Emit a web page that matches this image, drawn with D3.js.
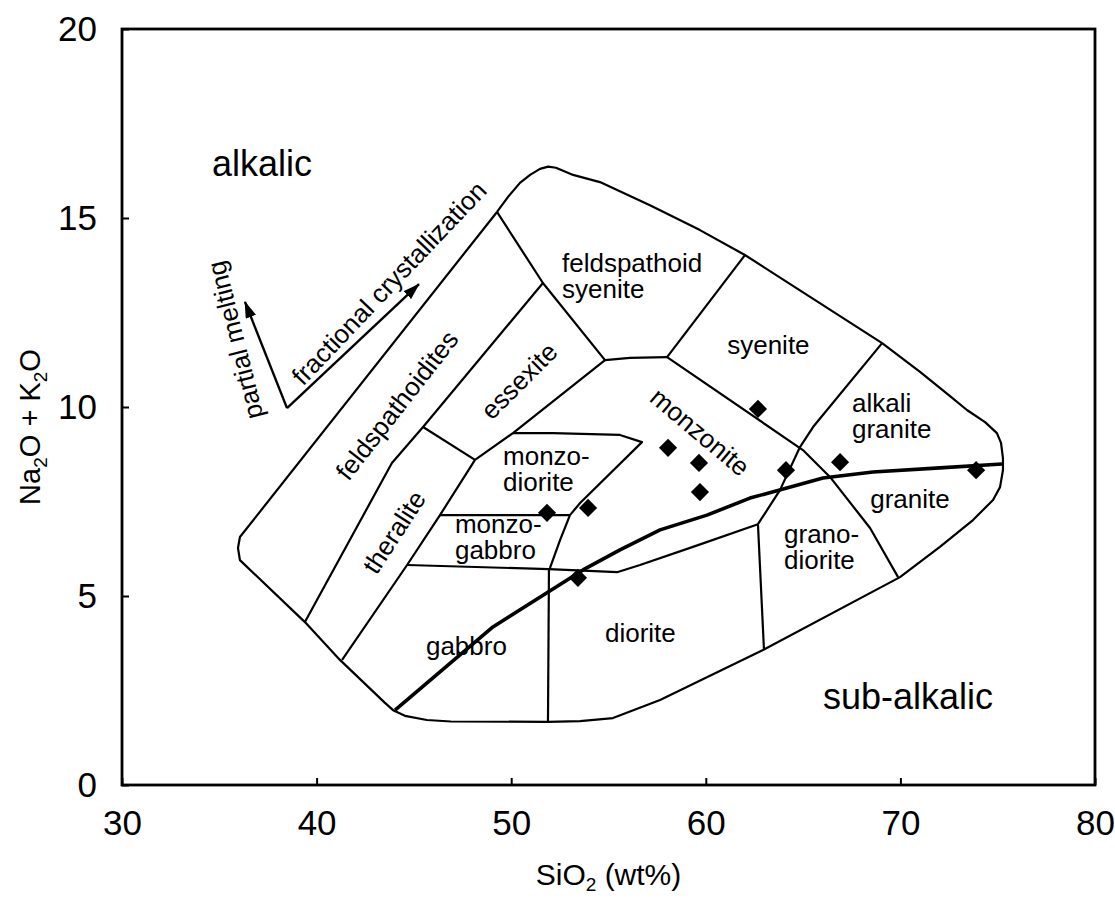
<!DOCTYPE html>
<html>
<head>
<meta charset="utf-8">
<script src="https://cdn.jsdelivr.net/npm/d3@7"></script>
<style>
  body { margin: 0; background: #fff; }
  svg { display: block; font-family: "Liberation Sans", Arial, sans-serif; }
  .frame { fill: none; stroke: #000; stroke-width: 2.8; }
  .field { fill: none; stroke: #000; stroke-width: 2.2; stroke-linejoin: round; }
  .divide { fill: none; stroke: #000; stroke-width: 3.6; stroke-linejoin: round; }
  .tick line { stroke: #000; stroke-width: 2; }
  .tick text { font-size: 35px; fill: #000; }
</style>
</head>
<body>
<div id="chart"></div>
<script>
// axis ticks
const xTicks = [30, 40, 50, 60, 70, 80];
const yTicks = [0, 5, 10, 15, 20];

// outer boundary of the plutonic TAS fields (SiO2, Na2O+K2O)
const outline = [
  [49.27, 15.16], [49.84, 15.56], [50.45, 15.93], [50.97, 16.14], [51.48, 16.30],
  [51.90, 16.36], [52.30, 16.33], [53.18, 16.14], [54.56, 15.95], [57.13, 15.34],
  [59.70, 14.68], [62.01, 14.02], [69.06, 11.69], [71.01, 10.93], [72.55, 10.29],
  [73.42, 9.92], [74.35, 9.60], [74.96, 9.31], [75.17, 9.05], [75.27, 8.65],
  [75.27, 8.33], [75.12, 7.88], [74.76, 7.54], [73.73, 7.01], [72.03, 6.30],
  [69.98, 5.50], [62.94, 3.57], [57.65, 2.25], [55.23, 1.77], [53.54, 1.69],
  [51.89, 1.67], [46.90, 1.68], [45.67, 1.72], [44.54, 1.83], [43.93, 1.98],
  [43.50, 2.18], [41.20, 3.31], [39.40, 4.31], [36.06, 5.95], [35.96, 6.27],
  [36.06, 6.56], [49.27, 15.16]
];

// internal field boundaries
const fieldLines = [
  [[49.27, 15.16], [51.63, 13.28], [54.82, 11.24]],
  [[54.82, 11.24], [56.10, 11.30], [58.01, 11.32]],
  [[62.01, 14.02], [58.01, 11.32]],
  [[39.40, 4.31], [43.87, 8.52], [45.47, 9.47], [51.63, 13.28]],
  [[45.47, 9.47], [48.14, 8.60]],
  [[48.14, 8.60], [50.09, 9.31], [54.82, 11.24]],
  [[48.14, 8.60], [46.34, 7.14], [44.65, 5.82], [41.31, 3.31]],
  [[50.09, 9.31], [52.15, 9.31], [55.59, 9.26], [56.72, 9.07], [53.54, 7.46], [53.02, 7.14]],
  [[46.34, 7.14], [53.02, 7.14]],
  [[53.02, 7.14], [52.51, 6.48], [51.99, 5.74]],
  [[44.65, 5.82], [51.94, 5.71], [55.44, 5.63], [56.62, 5.82], [59.34, 6.30], [62.68, 6.90]],
  [[51.94, 5.71], [51.89, 1.67]],
  [[62.68, 6.90], [62.99, 3.57]],
  [[62.68, 6.90], [63.81, 7.80], [64.84, 8.94], [65.51, 9.47], [69.06, 11.69]],
  [[58.01, 11.32], [64.99, 8.86], [66.38, 8.15], [68.44, 6.80], [69.88, 5.50]]
];

// alkalic / sub-alkalic divide
const divideLine = [
  [44.03, 1.98], [49.06, 4.18], [53.69, 5.69], [55.59, 6.22], [57.65, 6.75],
  [60.06, 7.14], [62.27, 7.59], [66.02, 8.12], [68.59, 8.28], [72.03, 8.39], [75.22, 8.49]
];

// samples
const sampleSiO2 = [51.84, 53.95, 53.43, 58.06, 59.65, 59.70, 62.68, 64.12, 66.90, 73.89];
const sampleAlk  = [7.20, 7.33, 5.48, 8.92, 8.52, 7.75, 9.95, 8.33, 8.54, 8.33];

// trend arrows: common origin, then tips
const arrowOrigin = [38.48, 9.97];
const arrowTips = [[36.32, 12.78], [45.26, 13.25]];

// field names (anchor in data units)
const fieldNames = [
  { t: ["feldspathoid", "syenite"], x: 52.61, y: 13.57 },
  { t: ["syenite"], x: 61.10, y: 11.40 },
  { t: ["alkali", "granite"], x: 67.51, y: 9.87 },
  { t: ["granite"], x: 68.45, y: 7.33 },
  { t: ["grano-", "diorite"], x: 64.02, y: 6.40 },
  { t: ["monzo-", "diorite"], x: 49.58, y: 8.47 },
  { t: ["monzo-", "gabbro"], x: 47.11, y: 6.67 },
  { t: ["gabbro"], x: 45.62, y: 3.44 },
  { t: ["diorite"], x: 54.82, y: 3.78 }
];
const rotatedNames = [
  { t: "fractional crystallization", x: 43.72, y: 13.28, a: -46.5 },
  { t: "partial melting", x: 35.81, y: 11.77, a: -104 },
  { t: "feldspathoidites", x: 44.13, y: 10.05, a: -52 },
  { t: "essexite", x: 50.40, y: 10.69, a: -45 },
  { t: "theralite", x: 43.98, y: 6.69, a: -57 },
  { t: "monzonite", x: 59.70, y: 9.34, a: 40 }
];
const seriesNames = [
  { t: "alkalic", x: 34.62, y: 16.11 },
  { t: "sub-alkalic", x: 66.02, y: 2.01 }
];

const W = 1115, H = 899;
const margin = { top: 29, right: 20, bottom: 114, left: 122 };
const width = W - margin.left - margin.right;
const height = H - margin.top - margin.bottom;

const svg = d3.select('#chart').append('svg')
  .attr('width', W)
  .attr('height', H);

const g = svg.append('g')
  .attr('transform', `translate(${margin.left}, ${margin.top})`);

const x = d3.scaleLinear().domain([30, 80]).range([0, width]);
const y = d3.scaleLinear().domain([0, 20]).range([height, 0]);

// axes, ticks pointing inward
const xAxis = g.append('g')
  .attr('transform', `translate(0, ${height})`)
  .call(d3.axisBottom(x).tickValues(xTicks).tickSizeInner(-7).tickSizeOuter(0).tickPadding(25));
const yAxis = g.append('g')
  .call(d3.axisLeft(y).tickValues(yTicks).tickSizeInner(-7).tickSizeOuter(0).tickPadding(25));
xAxis.select('.domain').remove();
yAxis.select('.domain').remove();
xAxis.attr('font-family', null).attr('font-size', null);
yAxis.attr('font-family', null).attr('font-size', null);

g.append('rect')
  .attr('class', 'frame')
  .attr('width', width)
  .attr('height', height);

const line = d3.line().x(d => x(d[0])).y(d => y(d[1]));

g.append('path').attr('class', 'field').attr('d', line(outline));
g.selectAll('.inner')
  .data(fieldLines)
  .enter().append('path')
  .attr('class', 'field inner')
  .attr('d', line);
g.append('path').attr('class', 'divide').attr('d', line(divideLine));

// arrows
const defs = svg.append('defs');
defs.append('marker')
  .attr('id', 'head')
  .attr('viewBox', '0 0 17 11')
  .attr('refX', 16).attr('refY', 5.5)
  .attr('markerWidth', 17).attr('markerHeight', 11)
  .attr('markerUnits', 'userSpaceOnUse')
  .attr('orient', 'auto')
  .append('path').attr('d', 'M0,0L17,5.5L0,11Z').attr('fill', '#000');

g.selectAll('.arrow')
  .data(arrowTips)
  .enter().append('path')
  .attr('class', 'arrow')
  .attr('d', d => line([arrowOrigin, d]))
  .attr('stroke', '#000').attr('stroke-width', 2.4).attr('fill', 'none')
  .attr('marker-end', 'url(#head)');

// samples
const sym = d3.symbol().type(d3.symbolSquare).size(165);
g.selectAll('.pt')
  .data(sampleSiO2)
  .enter().append('path')
  .attr('class', 'pt')
  .attr('d', sym)
  .attr('fill', '#000')
  .attr('transform', (d, i) => `translate(${x(d)}, ${y(sampleAlk[i])}) rotate(45)`);

// labels
const names = g.selectAll('.name')
  .data(fieldNames)
  .enter().append('text')
  .attr('class', 'name')
  .attr('font-size', 26)
  .attr('x', d => x(d.x))
  .attr('y', d => y(d.y));
names.selectAll('tspan')
  .data(d => d.t.map(s => ({ s, x: d.x })))
  .enter().append('tspan')
  .attr('x', d => x(d.x))
  .attr('dy', (d, i) => i ? 26 : 0)
  .text(d => d.s);

g.selectAll('.rname')
  .data(rotatedNames)
  .enter().append('text')
  .attr('font-size', 26)
  .attr('text-anchor', 'middle')
  .attr('dy', '0.35em')
  .attr('transform', d => `translate(${x(d.x)}, ${y(d.y)}) rotate(${d.a})`)
  .text(d => d.t);

g.selectAll('.sname')
  .data(seriesNames)
  .enter().append('text')
  .attr('font-size', 36)
  .attr('x', d => x(d.x))
  .attr('y', d => y(d.y))
  .text(d => d.t);

// axis titles
const xt = svg.append('text')
  .attr('x', margin.left + width / 2)
  .attr('y', 885)
  .attr('text-anchor', 'middle')
  .attr('font-size', 30);
xt.append('tspan').text('SiO');
xt.append('tspan').attr('font-size', 19).attr('dy', 6).text('2');
xt.append('tspan').attr('dy', -6).text(' (wt%)');

const yt = svg.append('text')
  .attr('transform', `translate(40, ${margin.top + y(10) + 20}) rotate(-90)`)
  .attr('text-anchor', 'middle')
  .attr('font-size', 29);
yt.append('tspan').text('Na');
yt.append('tspan').attr('font-size', 19).attr('dy', 7).text('2');
yt.append('tspan').attr('dy', -7).text('O + K');
yt.append('tspan').attr('font-size', 19).attr('dy', 7).text('2');
yt.append('tspan').attr('dy', -7).text('O');
</script>
</body>
</html>
